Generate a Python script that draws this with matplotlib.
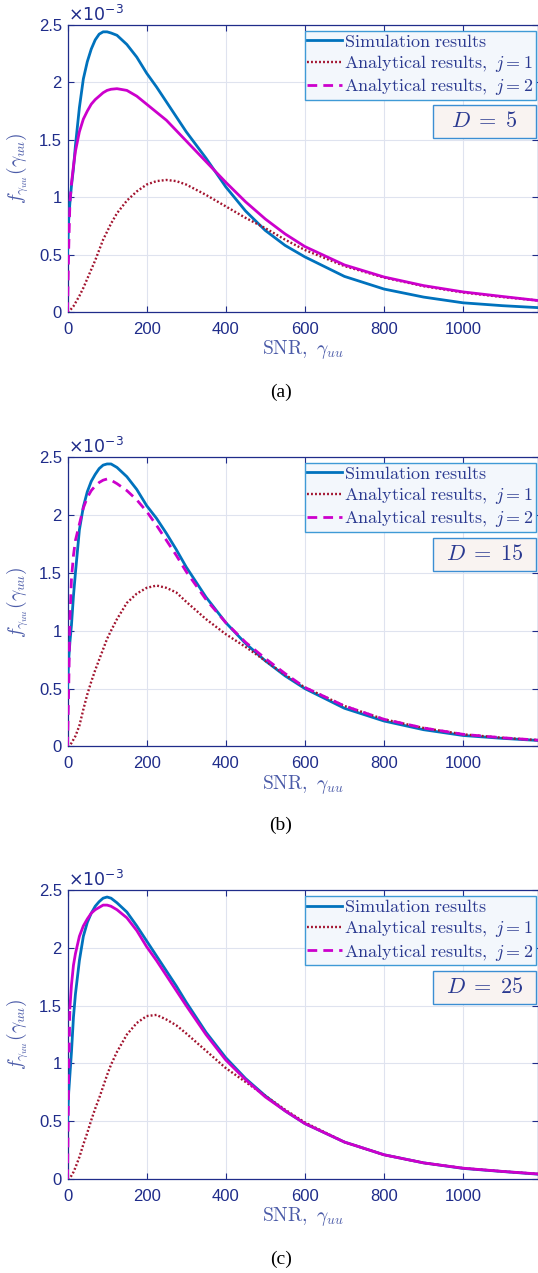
import matplotlib
matplotlib.use("Agg")
import matplotlib.pyplot as plt
from matplotlib.lines import Line2D
from matplotlib.patches import Rectangle

plt.rcParams['font.family'] = 'Liberation Sans'
plt.rcParams['mathtext.fontset'] = 'cm'

# SNR grid shared by all curves
snr = [0, 3, 6, 10, 15, 20, 30, 40, 50, 60, 70, 80, 90, 100, 110, 125, 150,
       175, 200, 225, 250, 275, 300, 350, 400, 450, 500, 550, 600, 700, 800,
       900, 1000, 1100, 1190]

# pdf values, units of 1e-3
sim_a = [0.50, 0.80, 0.95, 1.10, 1.25, 1.45, 1.78, 2.03, 2.18, 2.29, 2.37, 2.42,
         2.44, 2.44, 2.43, 2.41, 2.33, 2.22, 2.08, 1.96, 1.83, 1.70, 1.57, 1.34,
         1.09, 0.88, 0.71, 0.58, 0.48, 0.31, 0.20, 0.13, 0.08, 0.055, 0.038]
j1_a = [0, 0.005, 0.01, 0.03, 0.05, 0.08, 0.14, 0.21, 0.29, 0.37, 0.45, 0.54,
        0.63, 0.70, 0.77, 0.86, 0.97, 1.05, 1.11, 1.14, 1.15, 1.14, 1.11, 1.02,
        0.92, 0.82, 0.73, 0.63, 0.54, 0.40, 0.30, 0.225, 0.17, 0.13, 0.10]
j2_a = [0, 0.55, 0.95, 1.12, 1.27, 1.40, 1.57, 1.68, 1.75, 1.81, 1.85, 1.88,
        1.91, 1.93, 1.94, 1.945, 1.93, 1.88, 1.81, 1.74, 1.67, 1.58, 1.49, 1.31,
        1.13, 0.96, 0.81, 0.68, 0.57, 0.41, 0.305, 0.23, 0.175, 0.135, 0.10]

sim_b = [0.50, 0.75, 0.90, 1.05, 1.30, 1.50, 1.87, 2.07, 2.20, 2.29, 2.35, 2.40,
         2.43, 2.44, 2.44, 2.41, 2.33, 2.22, 2.08, 1.97, 1.84, 1.70, 1.55, 1.29,
         1.07, 0.89, 0.74, 0.61, 0.50, 0.33, 0.22, 0.145, 0.095, 0.07, 0.052]
j1_b = [0, 0.005, 0.01, 0.03, 0.06, 0.09, 0.18, 0.32, 0.45, 0.56, 0.66, 0.75,
        0.84, 0.93, 1.00, 1.10, 1.24, 1.32, 1.37, 1.39, 1.37, 1.33, 1.25, 1.10,
        0.97, 0.86, 0.74, 0.62, 0.51, 0.35, 0.235, 0.16, 0.105, 0.075, 0.055]
j2_b = [0, 0.50, 1.10, 1.45, 1.65, 1.78, 1.92, 2.06, 2.15, 2.21, 2.25, 2.28,
        2.30, 2.31, 2.30, 2.27, 2.21, 2.13, 2.03, 1.91, 1.78, 1.65, 1.51, 1.27,
        1.07, 0.90, 0.76, 0.63, 0.51, 0.35, 0.235, 0.16, 0.105, 0.075, 0.055]

sim_c = [0.50, 0.75, 0.90, 1.10, 1.40, 1.60, 1.89, 2.10, 2.22, 2.30, 2.36, 2.40,
         2.43, 2.44, 2.43, 2.39, 2.31, 2.19, 2.06, 1.93, 1.80, 1.67, 1.53, 1.27,
         1.05, 0.87, 0.72, 0.59, 0.48, 0.32, 0.21, 0.14, 0.092, 0.065, 0.042]
j1_c = [0, 0.005, 0.01, 0.03, 0.06, 0.10, 0.19, 0.30, 0.40, 0.51, 0.61, 0.70,
        0.80, 0.90, 0.99, 1.10, 1.25, 1.35, 1.41, 1.42, 1.38, 1.33, 1.26, 1.11,
        0.96, 0.84, 0.72, 0.60, 0.49, 0.32, 0.21, 0.14, 0.094, 0.066, 0.044]
j2_c = [0, 0.90, 1.48, 1.68, 1.85, 1.95, 2.10, 2.19, 2.25, 2.30, 2.33, 2.35,
        2.37, 2.37, 2.36, 2.33, 2.26, 2.15, 2.01, 1.89, 1.76, 1.63, 1.50, 1.25,
        1.03, 0.86, 0.71, 0.59, 0.48, 0.32, 0.21, 0.14, 0.094, 0.066, 0.044]

d_values = [5, 15, 25]
panel_tags = ['(a)', '(b)', '(c)']
legend_labels = [r'$\mathrm{Simulation\ results}$',
                 r'$\mathrm{Analytical\ results,}\ j = 1$',
                 r'$\mathrm{Analytical\ results,}\ j = 2$']
xticks = [0, 200, 400, 600, 800, 1000]
yticks = [0, 0.5, 1, 1.5, 2, 2.5]
ytick_labels = ['0', '0.5', '1', '1.5', '2', '2.5']

sims = [sim_a, sim_b, sim_c]
j1s = [j1_a, j1_b, j1_c]
j2s = [j2_a, j2_b, j2_c]
# the j=2 curve renders dashed only on its steep start in (a) and (c)
dash_upto = [4, len(snr), 3]

BLUE = '#0072BD'
RED = '#A2142F'
MAG = '#CC00CC'
NAVY = '#1F2C8A'
DOT = (0, (0.8, 0.9))
DASH = (0, (3.5, 2.2))

fig = plt.figure(figsize=(5.38, 12.73), dpi=100)
bottoms = [0.7549, 0.4136, 0.0738]
heights = [0.2255, 0.2274, 0.2270]
tag_y = [1 - 392 / 1273, 1 - 825 / 1273, 1 - 1259 / 1273]

for k in range(3):
    ax = fig.add_axes([0.1255, bottoms[k], 0.8736, heights[k]])
    ax.plot(snr, sims[k], color=BLUE, lw=2.0, zorder=3)
    ax.plot(snr, j1s[k], color=RED, lw=1.7, ls=DOT, zorder=3)
    n = dash_upto[k]
    ax.plot(snr[:n], j2s[k][:n], color=MAG, lw=2.0, ls=DASH, zorder=3)
    if n < len(snr):
        ax.plot(snr[n - 1:], j2s[k][n - 1:], color=MAG, lw=2.0, zorder=3)

    ax.set_xlim(0, 1188)
    ax.set_ylim(0, 2.5)
    ax.set_xticks(xticks)
    ax.set_yticks(yticks)
    ax.set_yticklabels(ytick_labels)
    ax.grid(color='#DFE3EF', lw=0.8)
    ax.set_axisbelow(True)
    ax.tick_params(direction='in', top=True, right=True, length=4,
                   color=NAVY, labelcolor=NAVY, labelsize=12, width=0.8)
    ax.tick_params(axis='x', pad=7)
    ax.tick_params(axis='y', pad=4)
    for s in ax.spines.values():
        s.set_color(NAVY)
        s.set_linewidth(0.9)

    ax.set_xlabel(r'$\mathrm{SNR},\ \gamma_{uu}$', fontsize=14,
                  color='#4B5BA8', labelpad=1)
    ax.set_ylabel(r'$f_{\gamma_{uu}}(\gamma_{uu})$', fontsize=14,
                  color='#4B5BA8', labelpad=6)
    ax.text(0.0, 1.004, r'$\times 10^{-3}$', transform=ax.transAxes,
            ha='left', va='bottom', fontsize=12.5, color=NAVY,
            math_fontfamily='dejavusans')

    handles = [Line2D([], [], color=BLUE, lw=2.0),
               Line2D([], [], color=RED, lw=1.7, ls=DOT),
               Line2D([], [], color=MAG, lw=2.0, ls=DASH)]
    leg = ax.legend(handles, legend_labels, loc='upper right',
                    bbox_to_anchor=(0.997, 0.979), fontsize=13,
                    fancybox=False, edgecolor='#3F9AD6', facecolor='#F3F7FC',
                    framealpha=1, borderaxespad=0, handlelength=1.9,
                    handletextpad=0.15, labelspacing=0.13, borderpad=0.15)
    leg.get_frame().set_linewidth(1.0)
    for t in leg.get_texts():
        t.set_color('#2A3990')

    ax.add_patch(Rectangle((0.777, 0.606), 0.22, 0.115, transform=ax.transAxes,
                           facecolor='#F9F3F1', edgecolor='#3C8ED3', lw=1.0,
                           zorder=5))
    ax.text(0.887, 0.6635, r'$D\;=\;%d$' % d_values[k], transform=ax.transAxes,
            ha='center', va='center', fontsize=16, color='#2A3990', zorder=6)

    fig.text(281 / 538, tag_y[k], panel_tags[k], ha='center', va='center',
             fontsize=14, family='Liberation Serif', color='black')

fig.savefig('out.png', dpi=100)
